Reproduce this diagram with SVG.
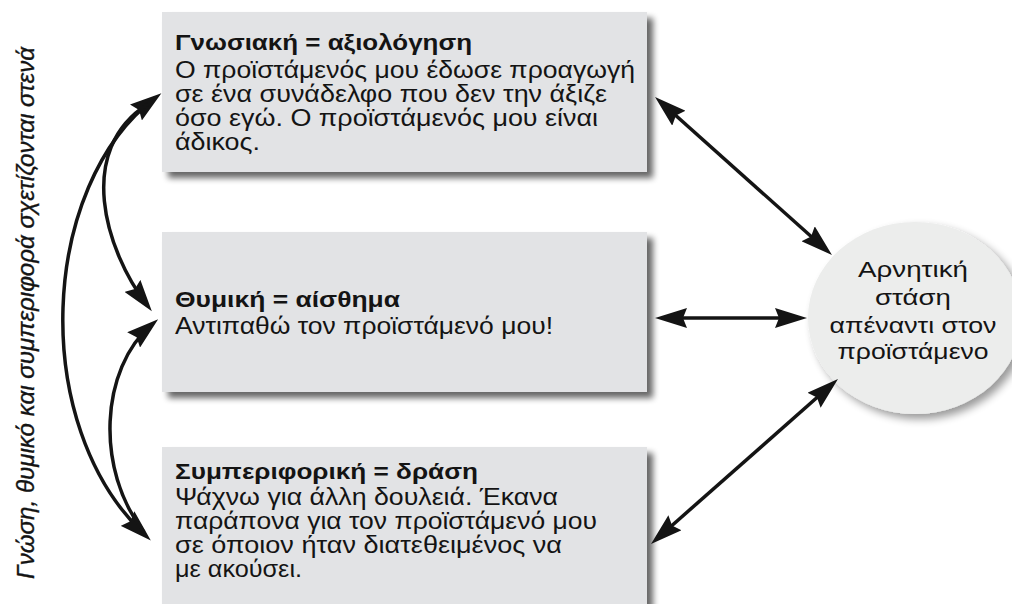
<svg xmlns="http://www.w3.org/2000/svg" width="1012" height="604" viewBox="0 0 1012 604">
<style>
.box{fill:#e2e3e5;filter:url(#sh);}
.ell{fill:#ecedec;filter:url(#sh2);}
.h{font-family:"Liberation Sans",Arial,sans-serif;font-weight:bold;font-size:22px;fill:#141414;}
.t{font-family:"Liberation Sans",Arial,sans-serif;font-size:23px;fill:#141414;}
.e{font-family:"Liberation Sans",Arial,sans-serif;font-size:22px;fill:#141414;text-anchor:middle;}
.side{font-family:"Liberation Sans",Arial,sans-serif;font-style:italic;font-size:24px;fill:#141414;text-anchor:middle;stroke:#141414;stroke-width:0.35;}
.c{fill:none;stroke:#141414;stroke-width:3.5;}
.a{marker-start:url(#ah);marker-end:url(#ah);}
.ae{marker-end:url(#ah);}
.as{marker-start:url(#ah);}
</style>
<defs>
<filter id="sh" x="-5%" y="-10%" width="115%" height="130%">
<feGaussianBlur in="SourceAlpha" stdDeviation="3"/>
<feOffset dx="6" dy="6" result="b"/>
<feComponentTransfer in="b" result="s"><feFuncA type="linear" slope="0.6"/></feComponentTransfer>
<feMerge><feMergeNode in="s"/><feMergeNode in="SourceGraphic"/></feMerge>
</filter>
<filter id="sh2" x="-10%" y="-10%" width="130%" height="130%">
<feGaussianBlur in="SourceAlpha" stdDeviation="4"/>
<feOffset dx="5" dy="5" result="b"/>
<feComponentTransfer in="b" result="s"><feFuncA type="linear" slope="0.4"/></feComponentTransfer>
<feMerge><feMergeNode in="s"/><feMergeNode in="SourceGraphic"/></feMerge>
</filter>
<marker id="ah" viewBox="0 0 32 20" refX="24" refY="10" markerWidth="32" markerHeight="20" markerUnits="userSpaceOnUse" orient="auto-start-reverse">
<path d="M0,0 L32,10 L0,20 L4,10 z" fill="#141414"/>
</marker>
</defs>

<rect width="1012" height="604" fill="#ffffff"/>

<g id="side-label">
<text class="side" transform="translate(34,313) rotate(-90)" textLength="532" lengthAdjust="spacingAndGlyphs">Γνώση, θυμικό και συμπεριφορά σχετίζονται στενά</text>
</g>

<g id="node-cognitive">
<rect class="box" x="162" y="12" width="485" height="160"/>
<text class="h" x="175" y="50" textLength="297" lengthAdjust="spacingAndGlyphs">Γνωσιακή = αξιολόγηση</text>
<text class="t" x="175" y="78" textLength="460" lengthAdjust="spacingAndGlyphs">Ο προϊστάμενός μου έδωσε προαγωγή</text>
<text class="t" x="175" y="102" textLength="432" lengthAdjust="spacingAndGlyphs">σε ένα συνάδελφο που δεν την άξιζε</text>
<text class="t" x="175" y="126" textLength="423" lengthAdjust="spacingAndGlyphs">όσο εγώ. Ο προϊστάμενός μου είναι</text>
<text class="t" x="175" y="150" textLength="85" lengthAdjust="spacingAndGlyphs">άδικος.</text>
</g>

<g id="node-affective">
<rect class="box" x="162" y="232" width="485" height="160"/>
<text class="h" x="175" y="307" textLength="225" lengthAdjust="spacingAndGlyphs">Θυμική = αίσθημα</text>
<text class="t" x="175" y="334" textLength="378" lengthAdjust="spacingAndGlyphs">Αντιπαθώ τον προϊστάμενό μου!</text>
</g>

<g id="node-behavioral">
<rect class="box" x="162" y="447" width="485" height="170"/>
<text class="h" x="175" y="479" textLength="303" lengthAdjust="spacingAndGlyphs">Συμπεριφορική = δράση</text>
<text class="t" x="175" y="505" textLength="383" lengthAdjust="spacingAndGlyphs">Ψάχνω για άλλη δουλειά. Έκανα</text>
<text class="t" x="175" y="529" textLength="422" lengthAdjust="spacingAndGlyphs">παράπονα για τον προϊστάμενό μου</text>
<text class="t" x="175" y="553" textLength="387" lengthAdjust="spacingAndGlyphs">σε όποιον ήταν διατεθειμένος να</text>
<text class="t" x="175" y="577" textLength="127" lengthAdjust="spacingAndGlyphs">με ακούσει.</text>
</g>

<g id="node-attitude">
<ellipse class="ell" cx="915" cy="318" rx="107" ry="96"/>
<text class="e" x="913" y="277" textLength="110" lengthAdjust="spacingAndGlyphs">Αρνητική</text>
<text class="e" x="913" y="305" textLength="76" lengthAdjust="spacingAndGlyphs">στάση</text>
<text class="e" x="913" y="333" textLength="167" lengthAdjust="spacingAndGlyphs">απέναντι στον</text>
<text class="e" x="913" y="359" textLength="151" lengthAdjust="spacingAndGlyphs">προϊστάμενο</text>
</g>

<g id="connectors">
<path class="c a" d="M661,102.3 L826,249.7"/>
<path class="c a" d="M663,318 L799,318"/>
<path class="c a" d="M832,384.3 L657,538.7"/>
<path class="c a" d="M155,98 C40,185 28,425 145,535"/>
<path class="c ae" d="M148,104 C75,150 105,250 147,305"/>
<path class="c as" d="M152,324.5 C100,368 95,470 144,532"/>
</g>
</svg>
